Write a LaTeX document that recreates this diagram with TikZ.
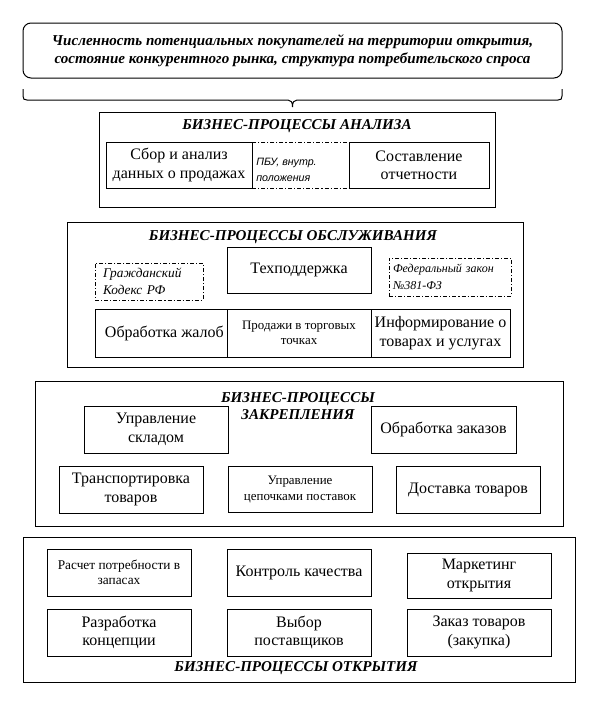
\documentclass[tikz,border=0pt]{standalone}
\usepackage{fontspec}
\setmainfont{Liberation Serif}
\newfontfamily\arialf{Liberation Sans}
\begin{document}
\begin{tikzpicture}[x=0.75pt,y=-0.75pt,
  lw/.style={line width=0.75pt},
  sect/.style={draw,lw,inner sep=0pt},
  pbox/.style={draw,lw,fill=white,align=center,inner sep=2pt,font=\fontsize{12}{13.8}\selectfont},
  sbox/.style={pbox,font=\fontsize{9.7}{11.5}\selectfont},
  ttl/.style={inner sep=0pt,align=center,font=\fontsize{11.3}{13}\selectfont\bfseries\itshape},
  ddbox/.style={draw,lw,dash pattern=on 3pt off 1.5pt on 0.8pt off 1.5pt,align=left},
  topbox/.style={draw,lw,rounded corners=6pt,align=center,inner sep=0pt,font=\fontsize{11.3}{13.65}\selectfont\bfseries\itshape},
  br/.style={lw}
]
\useasboundingbox (0,0) rectangle (598,703);

% top box and brace
\node[topbox,minimum width=404.25pt,minimum height=41.25pt] (top) at (292.5,50.5)
  {Численность потенциальных покупателей на территории открытия,\\состояние конкурентного рынка, структура потребительского спроса};
\coordinate (bL) at (23,89);
\coordinate (bR) at (562,89);
\coordinate (bT) at (292.5,107);
\draw[br] (bL) -- (23,96) .. controls (23,99) and (24,100) .. (27,100) -- (288,100)
  .. controls (291,100) and (292.5,102) .. (bT)
  .. controls (292.5,102) and (294,100) .. (297,100) -- (558,100)
  .. controls (561,100) and (562,99) .. (562,96) -- (bR);

% section 1: analysis
\node[sect,minimum width=297pt,minimum height=71.25pt] (s1) at (297,159.5) {};
\node[ttl] (t1) at (297,126) {БИЗНЕС-ПРОЦЕССЫ АНАЛИЗА};
\node[ddbox,minimum width=72.75pt,minimum height=34.5pt,inner sep=0pt] (pbu) at (300.5,165) {};
\node[anchor=west,inner sep=0pt,align=left,font=\arialf\itshape\fontsize{8}{12}\selectfont] (pbut) at (256,169.5)
  {ПБУ, внутр.\\положения};
\node[pbox,minimum width=109.5pt,minimum height=34.5pt] (a1) at (179,165) {Сбор и анализ\\данных о продажах};
\node[pbox,minimum width=105pt,minimum height=34.5pt] (a2) at (419,165) {Составление\\отчетности};

% section 2: service
\node[sect,minimum width=342pt,minimum height=108.75pt] (s2) at (295,294.5) {};
\node[ttl] (t2) at (293,237) {БИЗНЕС-ПРОЦЕССЫ ОБСЛУЖИВАНИЯ};
\node[pbox,minimum width=108pt,minimum height=34.5pt] (b1) at (299,270) {Техподдержка};
\node[ddbox,minimum width=81pt,minimum height=27.75pt,inner xsep=6pt,inner ysep=0pt,text width=69pt,
  font=\itshape\fontsize{10}{12.6}\selectfont] (gk) at (149,281.5) {Гражданский\\Кодекс РФ};
\node[ddbox,minimum width=91.5pt,minimum height=28.5pt,inner xsep=3pt,inner ysep=0pt,text width=85.5pt,
  font=\itshape\fontsize{9}{12.5}\selectfont] (fz) at (450,277) {Федеральный закон\\№381-ФЗ};
\node[pbox,minimum width=99pt,minimum height=36pt] (b2) at (161,333) {\hspace*{5pt}Обработка жалоб};
\node[sbox,minimum width=108pt,minimum height=36pt] (b3) at (299,333) {Продажи в торговых\\точках};
\node[pbox,minimum width=104.25pt,minimum height=36pt] (b4) at (440.5,333) {Информирование о\\товарах и услугах};

% section 3: consolidation
\node[sect,minimum width=396pt,minimum height=108.75pt] (s3) at (299,453.5) {};
\node[pbox,minimum width=108pt,minimum height=35.25pt] (c1) at (156,429.5) {Управление\\складом};
\node[pbox,minimum width=108.75pt,minimum height=35.25pt] (c2) at (443.5,429.5) {Обработка заказов};
\node[ttl,font=\fontsize{11.3}{12.3}\selectfont\bfseries\itshape] (t3) at (298,406) {БИЗНЕС-ПРОЦЕССЫ\\ЗАКРЕПЛЕНИЯ};
\node[pbox,minimum width=108pt,minimum height=35.25pt] (c3) at (131,489.5) {Транспортировка\\товаров};
\node[sbox,minimum width=108pt,minimum height=34.5pt] (c4) at (300,489.5) {Управление\\цепочками поставок};
\node[pbox,minimum width=108pt,minimum height=35.25pt] (c5) at (468,489.5) {Доставка товаров};

% section 4: opening
\node[sect,minimum width=414pt,minimum height=108.75pt] (s4) at (299,609.5) {};
\node[sbox,font=\fontsize{10}{11.5}\selectfont,minimum width=108pt,minimum height=35.25pt] (d1) at (119,572.5) {Расчет потребности в\\запасах};
\node[pbox,minimum width=108pt,minimum height=35.25pt] (d2) at (299,572.5) {Контроль качества};
\node[pbox,minimum width=108pt,minimum height=33.75pt] (d3) at (479,575.5) {Маркетинг\\открытия};
\node[pbox,minimum width=108pt,minimum height=35.25pt] (d4) at (119,632.5) {Разработка\\концепции};
\node[pbox,minimum width=108pt,minimum height=35.25pt] (d5) at (299,632.5) {Выбор\\поставщиков};
\node[pbox,minimum width=108pt,minimum height=35.25pt] (d6) at (479,632.5) {Заказ товаров\\(закупка)};
\node[ttl] (t4) at (296,668) {БИЗНЕС-ПРОЦЕССЫ ОТКРЫТИЯ};
\end{tikzpicture}
\end{document}
